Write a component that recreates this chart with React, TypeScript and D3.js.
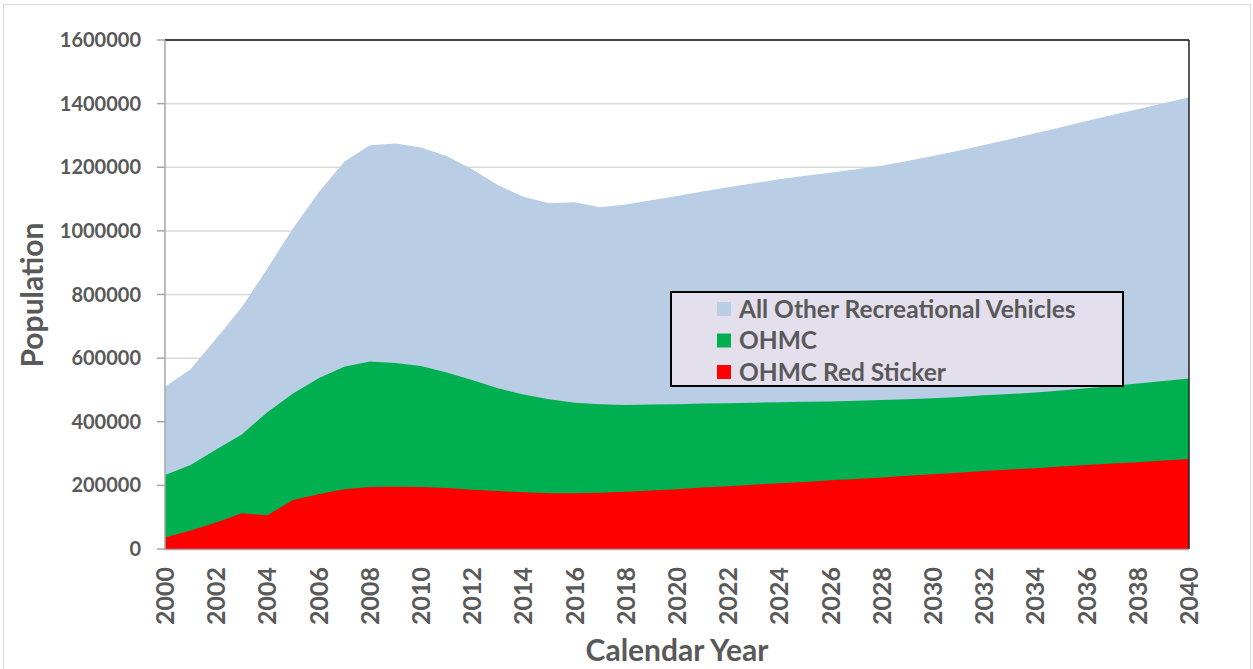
import React from "react";
import * as d3 from "d3";

const years: number[] = d3.range(2000, 2041);

// Top edge of each area (population)
const allVehicles: number[] = [
  510000, 565000, 662000, 760000, 882000, 1008000, 1121000, 1217000, 1269000, 1275000,
  1262000, 1235000, 1194000, 1144000, 1107000, 1087000, 1090000, 1074000, 1083000, 1096000,
  1110000, 1124000, 1137000, 1150000, 1162000, 1173000, 1183000, 1194000, 1205000, 1220000,
  1235000, 1252000, 1270000, 1288000, 1307000, 1326000, 1345000, 1364000, 1382000, 1401000,
  1420000,
];
const ohmc: number[] = [
  233000, 264000, 313000, 360000, 430000, 489000, 537000, 573000, 589000, 585000,
  575000, 555000, 531000, 505000, 486000, 471000, 460000, 455000, 453000, 454000,
  455000, 457000, 458000, 460000, 461000, 463000, 464000, 466000, 468000, 471000,
  474000, 478000, 483000, 487000, 492000, 498000, 505000, 512000, 520000, 528000,
  536000,
];
const redSticker: number[] = [
  36000, 58000, 83000, 112000, 106000, 154000, 172000, 188000, 195000, 196000,
  195000, 192000, 186000, 182000, 178000, 175000, 175000, 177000, 180000, 184000,
  188000, 193000, 197000, 202000, 207000, 211000, 216000, 220000, 225000, 230000,
  235000, 240000, 245000, 250000, 254000, 259000, 264000, 269000, 273000, 278000,
  283000,
];

const seriesNames: string[] = ["All Other Recreational Vehicles", "OHMC", "OHMC Red Sticker"];
const seriesColors: string[] = ["#B9CDE5", "#00B050", "#FF0000"];
const yTicks: number[] = [0, 200000, 400000, 600000, 800000, 1000000, 1200000, 1400000, 1600000];
const xTicks: number[] = d3.range(2000, 2041, 2);

const W = 1253;
const H = 669;
const left = 165;
const right = 1189;
const top = 40;
const bottom = 549;
const textColor = "#595959";
const font = "Lato, 'Open Sans', sans-serif";

export default function App() {
  const x = d3.scaleLinear().domain([2000, 2040]).range([left, right]);
  const y = d3.scaleLinear().domain([0, 1600000]).range([bottom, top]);

  const seriesData = [allVehicles, ohmc, redSticker];
  const area = d3
    .area<number>()
    .x((_, i) => x(years[i]))
    .y0(y(0))
    .y1((d) => y(d))
    .curve(d3.curveLinear);

  const legendX = 671;
  const legendY = 292;
  const legendW = 452;
  const legendH = 94;

  return (
    <svg
      width={W}
      height={H}
      style={{ position: "absolute", left: 0, top: 0, background: "#fff" }}
      fontFamily={font}
    >
      <rect x={3.5} y={4.5} width={1247} height={700} fill="#fff" stroke="#D9D9D9" strokeWidth={1} />

      {/* gridlines */}
      {yTicks.slice(1, -1).map((t) => (
        <line key={"g" + t} x1={left} x2={right} y1={y(t)} y2={y(t)} stroke="#D9D9D9" strokeWidth={1.5} />
      ))}

      {/* areas */}
      {seriesData.map((d, i) => (
        <path key={seriesNames[i]} d={area(d) || ""} fill={seriesColors[i]} />
      ))}

      {/* plot frame top/right */}
      <line x1={left} x2={right} y1={top} y2={top} stroke="#000" strokeWidth={1.5} />
      <line x1={right} x2={right} y1={top} y2={bottom} stroke="#222" strokeWidth={1.5} />

      {/* axes */}
      <line x1={left} x2={left} y1={top} y2={bottom + 1} stroke="#A6A6A6" strokeWidth={1.5} />
      <line x1={left} x2={right} y1={bottom + 0.5} y2={bottom + 0.5} stroke="#A6A6A6" strokeWidth={1.5} />

      {/* y ticks */}
      {yTicks.map((t) => (
        <g key={"y" + t}>
          <line x1={157} x2={left} y1={y(t)} y2={y(t)} stroke="#A6A6A6" strokeWidth={1.5} />
          <text
            x={141}
            y={y(t)}
            dy="0.35em"
            textAnchor="end"
            fontSize={20}
            fontWeight="bold"
            fill={textColor}
          >
            {t}
          </text>
        </g>
      ))}

      {/* x ticks */}
      {xTicks.map((t) => (
        <text
          key={"x" + t}
          transform={`translate(${x(t)},567) rotate(-90)`}
          textAnchor="end"
          dy="0.36em"
          fontSize={25}
          fontWeight="bold"
          fill={textColor}
        >
          {t}
        </text>
      ))}

      {/* axis titles */}
      <text
        transform="translate(43,295) rotate(-90)"
        textAnchor="middle"
        fontSize={30}
        fontWeight="bold"
        fill={textColor}
      >
        Population
      </text>
      <text x={677} y={661} textAnchor="middle" fontSize={30} fontWeight="bold" fill={textColor}>
        Calendar Year
      </text>

      {/* legend */}
      <rect
        x={legendX}
        y={legendY}
        width={legendW}
        height={legendH}
        fill="#E4DFEC"
        stroke="#000"
        strokeWidth={2}
      />
      {seriesNames.map((name, i) => {
        const cy = 309 + i * 31.5;
        return (
          <g key={"l" + name}>
            <rect x={717} y={cy - 7} width={14} height={14} fill={seriesColors[i]} />
            <text x={739} y={cy} dy="0.36em" fontSize={24.5} fontWeight="bold" fill={textColor}>
              {name}
            </text>
          </g>
        );
      })}
    </svg>
  );
}
